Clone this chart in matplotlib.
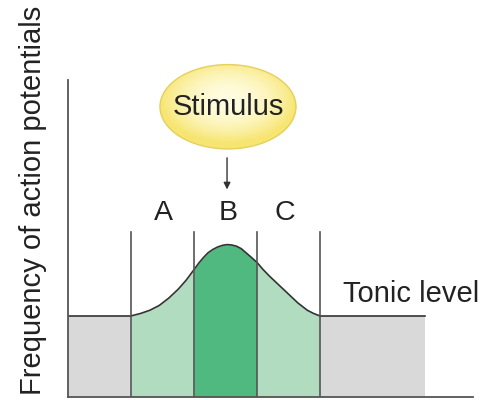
import numpy as np
import matplotlib
matplotlib.use("Agg")
import matplotlib.pyplot as plt
from matplotlib.patches import Ellipse

plt.rcParams['font.family'] = ['Liberation Sans', 'DejaVu Sans']

# Niveau tonique et bornes des zones (unités arbitraires)
tonic_level = 1.0
baseline_end = 11.35
zone_edges = [2.0, 4.0, 6.0, 8.0]
zone_labels = ["A", "B", "C"]
label_x = [3.02, 5.08, 6.89]

# Réponse au stimulus
curve_x = [2.0, 2.3, 2.6, 2.9, 3.2, 3.5, 3.75, 4.0, 4.15, 4.3, 4.45, 4.6, 4.75,
           4.9, 5.05, 5.2, 5.35, 5.5, 5.65, 5.8, 6.0, 6.2, 6.4, 6.7, 7.0,
           7.3, 7.6, 7.8, 8.0]
curve_y = [1.0, 1.03, 1.07, 1.13, 1.22, 1.33, 1.44, 1.57, 1.65, 1.72, 1.78, 1.82, 1.85,
           1.87, 1.88, 1.875, 1.86, 1.83, 1.78, 1.73, 1.66, 1.57, 1.49, 1.38, 1.27,
           1.16, 1.07, 1.03, 1.0]

gray = '#d9d9d9'
light_green = '#b1dcc0'
dark_green = '#50b97f'
line_col = '#333333'
txt_col = '#222222'

fig = plt.figure(figsize=(4.94, 4.0), dpi=100)
ax = fig.add_axes([68 / 494, 3 / 400, 405 / 494, 317 / 400])
ax.set_xlim(0, 12.86)
ax.set_ylim(0, 3.91)

cx = np.array(curve_x)
cy = np.array(curve_y)

# Zones grises (niveau tonique)
ax.fill_between([0, zone_edges[0]], 0, tonic_level, color=gray, lw=0)
ax.fill_between([zone_edges[-1], baseline_end], 0, tonic_level, color=gray, lw=0)

# Zones vertes sous la courbe
colors = [light_green, dark_green, light_green]
for i, c in enumerate(colors):
    m = (cx >= zone_edges[i]) & (cx <= zone_edges[i + 1])
    ax.fill_between(cx[m], 0, cy[m], color=c, lw=0)

# Courbe et ligne tonique
ax.plot(cx, cy, color=line_col, lw=1.2)
ax.plot([0, zone_edges[0]], [tonic_level, tonic_level], color=line_col, lw=1.2)
ax.plot([zone_edges[-1], baseline_end], [tonic_level, tonic_level], color=line_col, lw=1.2)

# Séparateurs verticaux
for e in zone_edges:
    ax.plot([e, e], [0, 2.04], color='#555555', lw=1.2)

# Lettres des zones
for xc, lab in zip(label_x, zone_labels):
    ax.text(xc, 2.27, lab, ha='center', va='center', fontsize=20.5, color=txt_col)

ax.text(8.73, 1.27, "Tonic level", ha='left', va='center', fontsize=21, color=txt_col)

# Ellipse "Stimulus" avec dégradé radial
ex, ey, ew, eh = 5.08, 3.58, 4.32, 1.04
gx, gy = np.meshgrid(np.linspace(-1, 1, 200), np.linspace(-1, 1, 200))
r = np.clip(np.sqrt(gx ** 2 + (gy + 0.15) ** 2), 0, 1)
c0 = np.array([1.0, 0.99, 0.88])
c1 = np.array([0.97, 0.90, 0.45])
img = c0[None, None, :] * (1 - r[..., None] ** 2) + c1[None, None, :] * r[..., None] ** 2
im = ax.imshow(img, extent=[ex - ew / 2, ex + ew / 2, ey - eh / 2, ey + eh / 2],
               origin='upper', aspect='auto', zorder=2)
clip_ell = Ellipse((ex, ey), ew, eh, transform=ax.transData)
im.set_clip_box(fig.bbox)
im.set_clip_path(clip_ell)
ell = Ellipse((ex, ey), ew, eh, facecolor='none', edgecolor='#e6cf5c', lw=1.0,
              clip_on=False, zorder=3)
ax.add_patch(ell)
ax.text(ex, ey, "Stimulus", ha='center', va='center', fontsize=21, color=txt_col, zorder=4)

# Flèche
ax.annotate("", xy=(5.05, 2.56), xytext=(5.05, 2.95),
            arrowprops=dict(arrowstyle='-|>', color='#333333', lw=1.0,
                            mutation_scale=10, shrinkA=0, shrinkB=0))

for s in ['top', 'right']:
    ax.spines[s].set_visible(False)
for s in ['left', 'bottom']:
    ax.spines[s].set_color('#555555')
    ax.spines[s].set_linewidth(1.3)
ax.set_xticks([])
ax.set_yticks([])
ax.set_xlim(0, 12.86)
ax.set_ylim(0, 3.91)

fig.text(33 / 494, 0.5, "Frequency of action potentials", rotation=90,
         ha='center', va='center', fontsize=21, color=txt_col)

fig.savefig("out.png", dpi=100)
